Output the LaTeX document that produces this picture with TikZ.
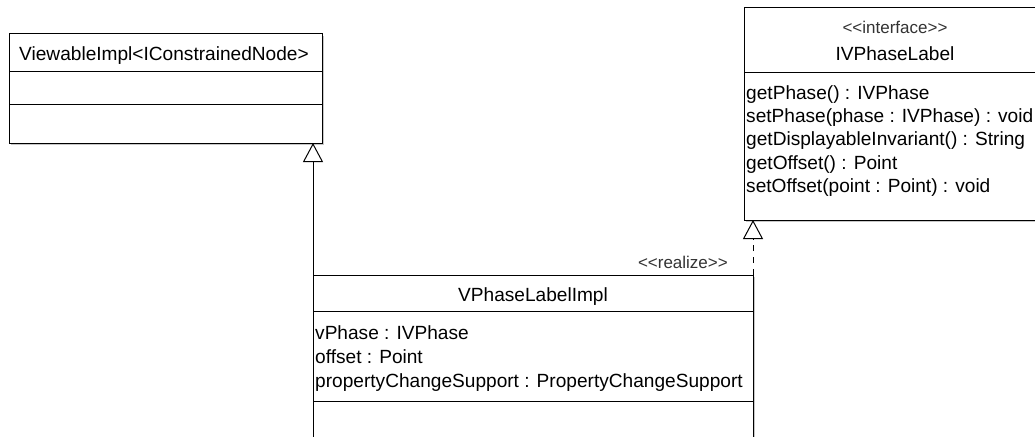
\documentclass[tikz,border=0pt]{standalone}
\usepackage{fontspec}
\setmainfont{Liberation Sans}
\usetikzlibrary{arrows.meta}
\begin{document}
\begin{tikzpicture}[x=1pt,y=-1pt,
  comp/.style={draw, line width=1pt, fill=white, anchor=north west, inner sep=0pt, outer sep=0pt},
  shadowbox/.style={fill=black!22, draw=none},
  txt/.style={anchor=base west, inner sep=0pt, font=\fontsize{19.1}{23}\selectfont},
  ctxt/.style={anchor=base, inner sep=0pt, font=\fontsize{19.1}{23}\selectfont},
  ster/.style={inner sep=0pt, font=\fontsize{17}{20}\selectfont, text=black!80},
  gen/.style={line width=1pt, -{Triangle[open, length=19pt, width=20pt, line width=1pt]}},
  real/.style={gen, dash pattern=on 6pt off 6pt}]
\useasboundingbox (0,0) rectangle (1035,436);
\clip (0,0) rectangle (1035,436);
\fill[white] (0,0) rectangle (1035,436);
% shadows
\fill[shadowbox] (11,36) rectangle (324,145);
\fill[shadowbox] (746,10) rectangle (1048,222);
\fill[shadowbox] (315,277) rectangle (755,460);
% ViewableImpl
\node[comp, minimum width=313pt, minimum height=37pt] (v1) at (9,34) {};
\node[comp, minimum width=313pt, minimum height=33pt] (v2) at (v1.south west) {};
\node[comp, minimum width=313pt, minimum height=39pt] (v3) at (v2.south west) {};
\node[ctxt] (vt) at (164,60) {ViewableImpl<{}IConstrainedNode>{}};
% IVPhaseLabel
\node[comp, minimum width=302pt, minimum height=64pt] (f1) at (744,8) {};
\node[comp, minimum width=302pt, minimum height=148pt] (f2) at (f1.south west) {};
\node[ster, anchor=base] (fs) at (895,34) {<{}<interface>{}>};
\node[ctxt] (fn) at (895,60) {IVPhaseLabel};
\node[txt] (m1) at (746,99) {getPhase() : IVPhase};
\node[txt] (m2) at (746,122) {setPhase(phase : IVPhase) : void};
\node[txt] (m3) at (746,145) {getDisplayableInvariant() : String};
\node[txt] (m4) at (746,169) {getOffset() : Point};
\node[txt] (m5) at (746,192) {setOffset(point : Point) : void};
% VPhaseLabelImpl
\node[comp, minimum width=440pt, minimum height=36pt] (i1) at (313,275) {};
\node[comp, minimum width=440pt, minimum height=90pt] (i2) at (i1.south west) {};
\node[comp, minimum width=440pt, minimum height=60pt] (i3) at (i2.south west) {};
\node[ctxt] (it) at (533,301) {VPhaseLabelImpl};
\node[txt] (a1) at (315,339) {vPhase : IVPhase};
\node[txt] (a2) at (315,363) {offset : Point};
\node[txt] (a3) at (315,387) {propertyChangeSupport : PropertyChangeSupport};
% connectors
\draw[gen] (i1.north west) -- (i1.north west |- v3.south);
\draw[real] (i1.north east) -- (i1.north east |- f2.south);
\node[ster, anchor=base east] (rl) at (728,268) {<{}<realize>{}>};
\end{tikzpicture}
\end{document}
